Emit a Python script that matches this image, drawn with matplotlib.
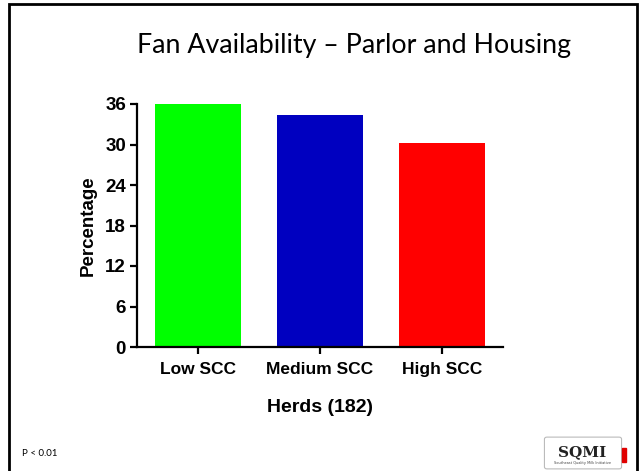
import matplotlib
matplotlib.use('Agg')
import matplotlib.pyplot as plt
from matplotlib.patches import Rectangle, FancyBboxPatch

# data
categories = ['Low SCC', 'Medium SCC', 'High SCC']
percent = [36.0, 34.3, 30.2]
bar_colors = ['#00FF00', '#0000C0', '#FF0000']
yticks = [0, 6, 12, 18, 24, 30, 36]

fig = plt.figure(figsize=(6.4, 4.71), dpi=100)
fig.patch.set_facecolor('white')

# slide frame
fig.patches.append(Rectangle((9 / 640, -0.05), 628 / 640, 1.05 - 4 / 471,
                             transform=fig.transFigure, fill=False,
                             edgecolor='black', linewidth=2.0))

fig.text(0.553, 0.904, 'Fan Availability \u2013 Parlor and Housing',
         ha='center', va='center', fontsize=19.3, family='Lato')

ax = fig.add_axes([137 / 640, 1 - 347 / 471, 366 / 640, 243 / 471])
x = range(len(categories))
ax.bar(x, percent, width=0.7, color=bar_colors)
ax.set_xlim(-0.5, 2.5)
ax.set_ylim(0, 36)
ax.set_yticks(yticks)
ax.set_xticks(list(x))
ax.set_xticklabels(categories)
for s in ('top', 'right'):
    ax.spines[s].set_visible(False)
for s in ('left', 'bottom'):
    ax.spines[s].set_linewidth(1.6)
ax.tick_params(axis='both', width=1.6, length=5, direction='out')
ax.tick_params(axis='y', pad=3, labelsize=13.5)
ax.tick_params(axis='x', pad=6, labelsize=12.5)
for lab in ax.get_xticklabels() + ax.get_yticklabels():
    lab.set_fontfamily('Liberation Sans')
    lab.set_fontweight('bold')
ax.set_ylabel('Percentage', family='Liberation Sans', weight='bold',
              fontsize=13.5, labelpad=6)
ax.set_xlabel('Herds (182)', family='Liberation Sans', weight='bold',
              fontsize=14, labelpad=16)

fig.text(22 / 640, 1 - 453 / 471, 'P < 0.01', ha='left', va='center',
         fontsize=7, family='Lato')

# SQMI logo (bottle outline with lettering)
fig.patches.append(FancyBboxPatch((547 / 640, 1 - 467 / 471), 72 / 640, 28 / 471,
                                  boxstyle='round,pad=0.004',
                                  transform=fig.transFigure, fill=False,
                                  edgecolor='#bbbbbb', linewidth=0.8))
fig.patches.append(Rectangle((622 / 640, 1 - 462 / 471), 4 / 640, 14 / 471,
                             transform=fig.transFigure, color='#e00000'))
fig.text(582 / 640, 1 - 452 / 471, 'SQMI', ha='center', va='center',
         fontsize=11, weight='bold', family='DejaVu Serif', color='#222222')
fig.text(582 / 640, 1 - 463 / 471, 'Southeast Quality Milk Initiative',
         ha='center', va='center', fontsize=2.5, color='#444444')

fig.savefig('out.png', dpi=100)
